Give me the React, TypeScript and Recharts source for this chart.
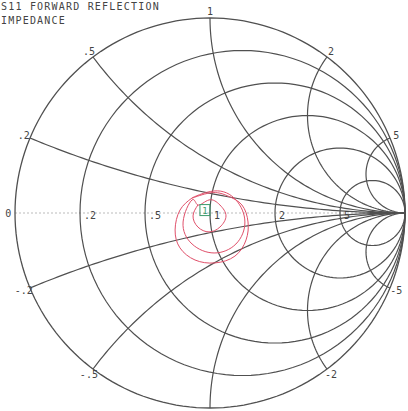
import { Scatter, ScatterChart, XAxis, YAxis } from "recharts";

// chart geometry in pixels: unit circle of the Smith chart
const W = 408;
const H = 411;
const CX = 210;
const CY = 213;
const R = 195;

const resistances = [0.2, 0.5, 1, 2, 5];
const resistanceLabels = [".2", ".5", "1", "2", "5"];
const reactances = [0.2, 0.5, 1, 2, 5, -0.2, -0.5, -1, -2, -5];
// the -1 label falls below the visible frame, so it is left blank
const reactanceLabels = [".2", ".5", "1", "2", "5", "-.2", "-.5", "", "-2", "-5"];

// measured S11 trace (reflection coefficient, real / imaginary)
const traceRe = [
  -0.092, -0.154, -0.179, -0.154, -0.077, 0.026, 0.128, 0.185, 0.195, 0.164, 0.092, 0, -0.092,
  0.021, 0.133, 0.179, 0.133, 0.021, -0.092, -0.138, -0.092,
  -0.062, -0.005, 0.051, 0.082, 0.051, -0.005, -0.062, -0.087, -0.062,
];
const traceIm = [
  0.077, 0.015, -0.087, -0.179, -0.241, -0.256, -0.221, -0.138, -0.046, 0.041, 0.087, 0.103, 0.077,
  0.113, 0.067, -0.046, -0.159, -0.205, -0.159, -0.046, 0.067,
  0.041, 0.067, 0.041, -0.015, -0.072, -0.097, -0.072, -0.015, 0.041,
];
const markerRe = [-0.026];
const markerIm = [0.015];

type Pt = { x: number; y: number; text?: string };

function arc(cx: number, cy: number, r: number, a0: number, a1: number, n: number): Pt[] {
  const pts: Pt[] = [];
  for (let i = 0; i <= n; i++) {
    const a = ((a0 + ((a1 - a0) * i) / n) * Math.PI) / 180;
    pts.push({ x: cx + r * Math.cos(a), y: cy + r * Math.sin(a) });
  }
  return pts;
}

const outer = arc(0, 0, 1, 0, 360, 180);
const rCircles = resistances.map((r) => arc(r / (1 + r), 0, 1 / (1 + r), 0, 360, 120));
const xArcs = reactances.map((x) => {
  const ax = Math.abs(x);
  const ix = (ax * ax - 1) / (ax * ax + 1);
  const iy = (2 * ax) / (ax * ax + 1);
  let a0 = (Math.atan2(iy - 1 / ax, ix - 1) * 180) / Math.PI;
  if (a0 < 90) a0 += 360;
  const pts = arc(1, 1 / ax, 1 / ax, a0, 270, 90);
  return x > 0 ? pts : pts.map((p) => ({ x: p.x, y: -p.y }));
});
const axisLine: Pt[] = [
  { x: -1, y: 0 },
  { x: 1, y: 0 },
];

const reactanceText: Pt[] = reactances
  .map((x, i) => {
    const ax = Math.abs(x);
    const ix = (ax * ax - 1) / (ax * ax + 1);
    const iy = (2 * ax) / (ax * ax + 1);
    return { x: ix * 1.035, y: Math.sign(x) * iy * 1.035, text: reactanceLabels[i] };
  })
  .filter((p) => p.text !== "");
reactanceText.push({ x: -1.035, y: 0, text: "0" });
const resistanceText: Pt[] = resistances.map((r, i) => ({
  x: (r - 1) / (r + 1),
  y: 0,
  text: resistanceLabels[i],
}));

const trace: Pt[] = traceRe.map((v, i) => ({ x: v, y: traceIm[i] }));
const markers: Pt[] = markerRe.map((v, i) => ({ x: v, y: markerIm[i], text: "1" }));

const GRID = "#505050";
const FONT = "'DejaVu Sans Mono', monospace";

const NoShape = () => <g />;

const ReactanceLabel = (p: any) => (
  <text x={p.cx} y={p.cy + 3.5} textAnchor="middle" fontSize={10} fontFamily={FONT} fill="#444">
    {p.payload.text}
  </text>
);

const ResistanceLabel = (p: any) => (
  <text x={p.cx + 4} y={p.cy + 6} textAnchor="start" fontSize={10} fontFamily={FONT} fill="#444">
    {p.payload.text}
  </text>
);

const MarkerShape = (p: any) => (
  <g>
    <rect x={p.cx - 5} y={p.cy - 5.5} width={10} height={11} fill="none" stroke="#3c9a6c" strokeWidth={1} />
    <text x={p.cx} y={p.cy + 3.5} textAnchor="middle" fontSize={9} fontFamily={FONT} fill="#3c9a6c">
      {p.payload.text}
    </text>
  </g>
);

export default function App() {
  return (
    <div style={{ position: "absolute", left: 0, top: 0, width: W, height: H, background: "#fff" }}>
      <div
        style={{
          position: "absolute",
          left: 1,
          top: 0,
          fontFamily: FONT,
          fontSize: 10,
          letterSpacing: 1.2,
          lineHeight: "14px",
          color: "#444",
          whiteSpace: "pre",
        }}
      >
        {"S11 FORWARD REFLECTION\nIMPEDANCE"}
      </div>
      <ScatterChart width={W} height={H} margin={{ top: 0, right: 0, bottom: 0, left: 0 }}>
        <XAxis type="number" dataKey="x" domain={[-CX / R, (W - CX) / R]} allowDataOverflow hide />
        <YAxis type="number" dataKey="y" domain={[-(H - CY) / R, CY / R]} allowDataOverflow hide />
        <Scatter
          data={axisLine}
          line={{ stroke: "#bbb", strokeWidth: 1, strokeDasharray: "2 2" }}
          shape={NoShape}
          isAnimationActive={false}
        />
        <Scatter data={outer} line={{ stroke: GRID, strokeWidth: 1.3 }} shape={NoShape} isAnimationActive={false} />
        {rCircles.map((pts, i) => (
          <Scatter
            key={"r" + i}
            data={pts}
            line={{ stroke: GRID, strokeWidth: 1.2 }}
            shape={NoShape}
            isAnimationActive={false}
          />
        ))}
        {xArcs.map((pts, i) => (
          <Scatter
            key={"x" + i}
            data={pts}
            line={{ stroke: GRID, strokeWidth: 1.2 }}
            shape={NoShape}
            isAnimationActive={false}
          />
        ))}
        <Scatter
          data={trace}
          line={{ stroke: "#e0506a", strokeWidth: 1 }}
          lineJointType="natural"
          shape={NoShape}
          isAnimationActive={false}
        />
        <Scatter data={markers} shape={MarkerShape} isAnimationActive={false} />
        <Scatter data={reactanceText} shape={ReactanceLabel} isAnimationActive={false} />
        <Scatter data={resistanceText} shape={ResistanceLabel} isAnimationActive={false} />
      </ScatterChart>
    </div>
  );
}
